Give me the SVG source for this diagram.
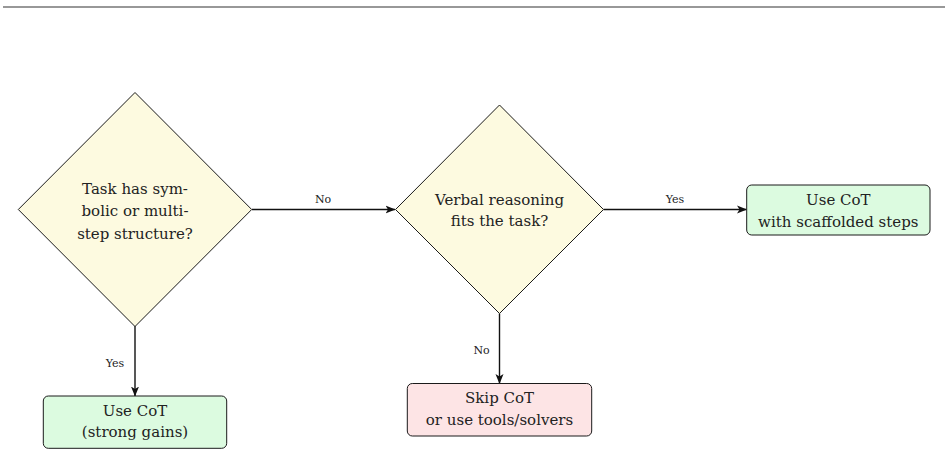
<svg xmlns="http://www.w3.org/2000/svg" width="948" height="455" viewBox="0 0 948 455">
<style>
  .t { font-family: "DejaVu Serif", "Liberation Serif", serif; font-size: 15px; fill: #222; text-anchor: middle; }
  .lbl { font-family: "DejaVu Serif", "Liberation Serif", serif; font-size: 11px; fill: #222; text-anchor: middle; }
  .dia { fill: #fdfae0; stroke: #1a1a1a; stroke-width: 1; }
  .ok { fill: #dcfbe0; stroke: #1a1a1a; stroke-width: 1; }
  .no { fill: #fde4e5; stroke: #1a1a1a; stroke-width: 1; }
  .edge { stroke: #111; stroke-width: 1.4; fill: none; marker-end: url(#arr); }
</style>
<defs>
  <marker id="arr" markerWidth="10" markerHeight="10" viewBox="0 0 10 10" refX="9.5" refY="5" orient="auto" markerUnits="userSpaceOnUse">
    <path d="M0,1 L10,5 L0,9 L2.5,5 Z" fill="#111"/>
  </marker>
</defs>
<rect width="948" height="455" fill="#ffffff"/>
<line x1="3" y1="7" x2="945" y2="7" stroke="#333" stroke-width="1.2"/>

<g id="connectors">
  <line class="edge" x1="252" y1="209.5" x2="395" y2="209.5"/>
  <text class="lbl" x="323" y="203">No</text>
  <line class="edge" x1="603.5" y1="209.5" x2="746.5" y2="209.5"/>
  <text class="lbl" x="675" y="203">Yes</text>
  <line class="edge" x1="135" y1="326" x2="135" y2="396"/>
  <text class="lbl" x="115" y="366.5">Yes</text>
  <line class="edge" x1="499.5" y1="313.5" x2="499.5" y2="383.5"/>
  <text class="lbl" x="481.5" y="353.5">No</text>
</g>

<g id="q1">
  <polygon class="dia" points="135,92.5 251.7,209.5 135,326.5 18.3,209.5"/>
  <text class="t" x="135" y="193.5">Task has sym-</text>
  <text class="t" x="135" y="216">bolic or multi-</text>
  <text class="t" x="135" y="238.5">step structure?</text>
</g>

<g id="q2">
  <polygon class="dia" points="499.5,105 603.5,209.5 499.5,313.5 395.5,209.5"/>
  <text class="t" x="499.5" y="204.5">Verbal reasoning</text>
  <text class="t" x="499.5" y="226">fits the task?</text>
</g>

<g id="cot_scaffold">
  <rect class="ok" x="746.7" y="185" width="183.3" height="50" rx="5" ry="5"/>
  <text class="t" x="838.3" y="204.5">Use CoT</text>
  <text class="t" x="838.3" y="226.5">with scaffolded steps</text>
</g>

<g id="cot_strong">
  <rect class="ok" x="43.3" y="396" width="183.4" height="52.3" rx="5" ry="5"/>
  <text class="t" x="135" y="415.5">Use CoT</text>
  <text class="t" x="135" y="437">(strong gains)</text>
</g>

<g id="skip_cot">
  <rect class="no" x="407.3" y="383.5" width="184.4" height="52.5" rx="5" ry="5"/>
  <text class="t" x="499.5" y="402.5">Skip CoT</text>
  <text class="t" x="499.5" y="424.5">or use tools/solvers</text>
</g>
</svg>
